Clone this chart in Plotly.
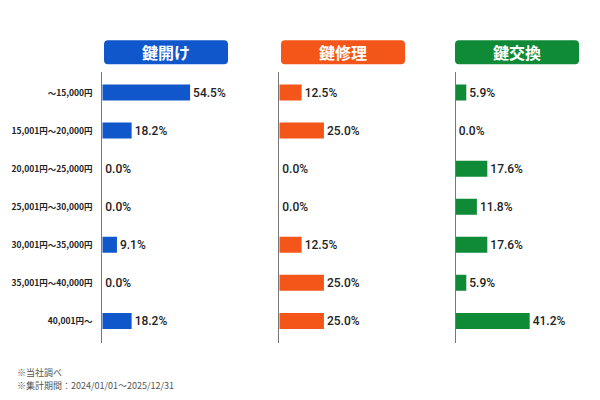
import plotly.graph_objects as go

# price ranges (top to bottom)
categories = [
    "〜15,000円",
    "15,001円〜20,000円",
    "20,001円〜25,000円",
    "25,001円〜30,000円",
    "30,001円〜35,000円",
    "35,001円〜40,000円",
    "40,001円〜",
]

services = ["鍵開け", "鍵修理", "鍵交換"]
key_open = [54.5, 18.2, 0.0, 0.0, 9.1, 0.0, 18.2]
key_repair = [12.5, 25.0, 0.0, 0.0, 12.5, 25.0, 25.0]
key_change = [5.9, 0.0, 17.6, 11.8, 17.6, 5.9, 41.2]

notes = ["※当社調べ", "※集計期間：2024/01/01〜2025/12/31"]

colors = ["#1157cc", "#f4561a", "#0f8a37"]
W, H = 600, 400
FONT = "Noto Sans CJK JP"

panels = [
    (key_open, 102.3, 77.6),
    (key_repair, 279.3, 70.0),
    (key_change, 455.7, 69.6),
]
panel_w = 125

fig = go.Figure()
layout = dict(
    width=W, height=H,
    margin=dict(l=0, r=0, t=0, b=0),
    paper_bgcolor="white", plot_bgcolor="white",
    showlegend=False,
    font=dict(family=FONT, color="#222"),
    bargap=0.58,
)

y_dom = [1 - 343 / H, 1 - 72 / H]


def rounded_box(x0, y0, x1, y1, r=4):
    # pixel coords -> paper coords, rounded corners
    px = lambda v: v / W
    py = lambda v: 1 - v / H
    return (
        f"M {px(x0 + r)},{py(y0)} L {px(x1 - r)},{py(y0)} "
        f"Q {px(x1)},{py(y0)} {px(x1)},{py(y0 + r)} "
        f"L {px(x1)},{py(y1 - r)} Q {px(x1)},{py(y1)} {px(x1 - r)},{py(y1)} "
        f"L {px(x0 + r)},{py(y1)} Q {px(x0)},{py(y1)} {px(x0)},{py(y1 - r)} "
        f"L {px(x0)},{py(y0 + r)} Q {px(x0)},{py(y0)} {px(x0 + r)},{py(y0)} Z"
    )


shapes = []
annotations = []
for i, (vals, x0, xmax) in enumerate(panels):
    n = "" if i == 0 else str(i + 1)
    fig.add_trace(go.Bar(
        x=vals, y=categories, orientation="h",
        marker=dict(color=colors[i], line=dict(width=0)),
        text=[f"{v:.1f}%" for v in vals],
        textposition="outside",
        textfont=dict(size=12, color="#222", family="Roboto", weight=500),
        cliponaxis=False,
        xaxis="x" + n, yaxis="y" + n,
        hoverinfo="skip",
    ))
    layout["xaxis" + n] = dict(
        domain=[x0 / W, (x0 + panel_w) / W], range=[0, xmax],
        visible=False, fixedrange=True,
    )
    layout["yaxis" + n] = dict(
        domain=y_dom, anchor="x" + n, type="category",
        categoryorder="array", categoryarray=categories,
        range=[6.58, -0.54],
        showline=True, linecolor="#777", linewidth=1,
        showgrid=False, zeroline=False, ticks="",
        showticklabels=(i == 0), ticklabelstandoff=7,
        tickfont=dict(size=8.5, color="#222", family=FONT, weight=600),
    )
    bx0 = x0 + 1.7 if i < 2 else x0 - 0.7
    shapes.append(dict(
        type="path", xref="paper", yref="paper",
        path=rounded_box(bx0, 40.3, bx0 + 124, 64.3),
        fillcolor=colors[i], line=dict(width=0), layer="below",
    ))
    annotations.append(dict(
        x=(bx0 + 62) / W, y=1 - 52.3 / H, xref="paper", yref="paper",
        text=services[i], showarrow=False,
        xanchor="center", yanchor="middle",
        font=dict(size=16, color="white", family=FONT, weight="bold"),
    ))

for j, t in enumerate(notes):
    annotations.append(dict(
        x=15 / W, y=1 - (372 + j * 13) / H, xref="paper", yref="paper",
        text=t, showarrow=False, xanchor="left", yanchor="middle",
        font=dict(size=9, color="#555", family=FONT),
    ))

layout["shapes"] = shapes
layout["annotations"] = annotations
fig.update_layout(**layout)

fig.write_html(
    "out.html",
    config={"displayModeBar": False},
    post_script="document.body.style.margin='0';",
)
